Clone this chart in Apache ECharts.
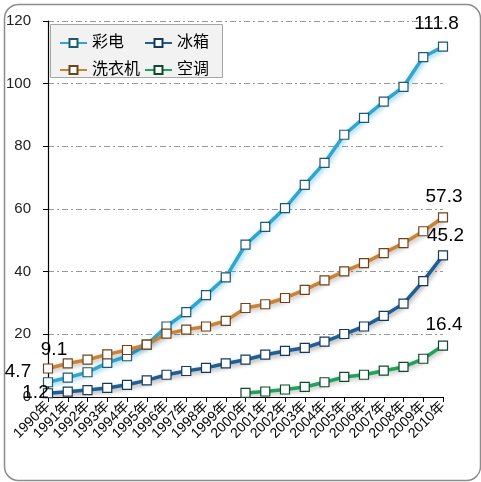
<!DOCTYPE html>
<html>
<head>
<meta charset="utf-8">
<script src="https://cdn.jsdelivr.net/npm/echarts@6/dist/echarts.min.js"></script>
<style>html,body{margin:0;padding:0;background:#fff}#c{width:481px;height:482px}</style>
</head>
<body>
<div id="c"></div>
<script>
var categories = ['1990年','1991年','1992年','1993年','1994年','1995年','1996年','1997年','1998年','1999年','2000年','2001年','2002年','2003年','2004年','2005年','2006年','2007年','2008年','2009年','2010年'];
var tv = [4.7, 6.2, 7.9, 10.9, 13.0, 16.7, 22.5, 27.1, 32.5, 38.2, 48.6, 54.3, 60.3, 67.7, 74.7, 83.7, 89.1, 94.3, 99.0, 108.5, 111.8];
var washer = [9.1, 10.7, 11.9, 13.6, 15.0, 16.7, 20.2, 21.5, 22.5, 24.3, 28.4, 29.6, 31.6, 34.2, 37.2, 40.1, 42.7, 45.9, 49.1, 52.9, 57.3];
var fridge = [1.2, 1.7, 2.2, 2.9, 3.9, 5.3, 7.1, 8.3, 9.3, 10.7, 11.9, 13.5, 14.7, 15.7, 17.7, 20.1, 22.5, 25.9, 29.8, 37.0, 45.2];
var ac = [null, null, null, null, null, null, null, null, null, null, 1.3, 1.75, 2.4, 3.2, 4.7, 6.4, 7.1, 8.4, 9.6, 12.2, 16.4];
var seriesNames = ['彩电', '冰箱', '洗衣机', '空调'];
var yTicks = [0, 20, 40, 60, 80, 100, 120];

var FONT = "'Liberation Sans', Arial, 'Noto Sans CJK SC', sans-serif";
var SYM = 9;
function lbl(dx, dy) {
  return {show: true, color: '#000', fontSize: 19, fontFamily: FONT,
          position: 'inside', offset: [dx, dy], align: 'center', verticalAlign: 'middle'};
}

function withLabels(values, firstLabel, lastLabel) {
  return values.map(function (v, i) {
    if (i === values.length - 1 && lastLabel) return {value: v, label: lastLabel};
    if (i === 0 && firstLabel) return {value: v, label: firstLabel};
    return v;
  });
}

function mkSeries(name, data, color, border, shadow) {
  return {
    name: name, type: 'line', data: data,
    symbol: 'rect', symbolSize: SYM, showAllSymbol: true,
    connectNulls: false,
    lineStyle: {color: color, width: 3.5, shadowBlur: 5, shadowColor: shadow, shadowOffsetX: 1, shadowOffsetY: 2},
    itemStyle: {color: '#fff', borderColor: border, borderWidth: 1.2},
    emphasis: {disabled: true},
    z: 3
  };
}

var chart = echarts.init(document.getElementById('c'));
chart.setOption({
  animation: false,
  backgroundColor: '#fff',
  grid: {left: 48, right: 38, top: 21, bottom: 85},
  graphic: [
    {type: 'rect', left: 2, top: 2, shape: {width: 476, height: 476, r: 14}, style: {fill: 'none', stroke: '#8c8c8c', lineWidth: 1.5}, z: -10},
    {type: 'rect', left: 50, top: 24, shape: {width: 172, height: 53}, style: {fill: '#f2f2f2', stroke: '#a6a6a6', lineWidth: 1}, z: 5}
  ],
  legend: [
    {data: [seriesNames[0], seriesNames[2]], orient: 'vertical', left: 54, top: 30, itemWidth: 27, itemHeight: 10, itemGap: 11, itemTextGap: 4,
     textStyle: {fontSize: 16, color: '#000', fontFamily: FONT}, z: 6},
    {data: [seriesNames[1], seriesNames[3]], orient: 'vertical', left: 139, top: 30, itemWidth: 27, itemHeight: 10, itemGap: 11, itemTextGap: 4,
     textStyle: {fontSize: 16, color: '#000', fontFamily: FONT}, z: 6}
  ],
  xAxis: {
    type: 'category', data: categories, boundaryGap: false,
    axisLine: {lineStyle: {color: '#000', width: 1.2}},
    axisTick: {show: true, alignWithLabel: true, length: 5, lineStyle: {color: '#000'}},
    axisLabel: {rotate: 45, interval: 0, fontSize: 14, color: '#000', fontFamily: FONT, margin: 7},
    splitLine: {show: false}
  },
  yAxis: {
    type: 'value', min: yTicks[0], max: yTicks[yTicks.length - 1], interval: 20,
    axisLine: {show: true, lineStyle: {color: '#000', width: 1.2}},
    axisTick: {show: true, length: 5, lineStyle: {color: '#000'}},
    axisLabel: {fontSize: 15, color: '#222', fontFamily: FONT, margin: 17},
    splitLine: {show: true, lineStyle: {color: '#999', width: 1, type: [6, 3, 2, 3]}}
  },
  series: [
    mkSeries(seriesNames[0], withLabels(tv, lbl(-30, -11), lbl(-6.5, -23)), '#2fa6cf', '#1c5a6e', 'rgba(40,160,210,0.55)'),
    mkSeries(seriesNames[1], withLabels(fridge, lbl(-12.5, 0), lbl(2.5, -20)), '#1f5f96', '#143a5a', 'rgba(0,0,0,0.4)'),
    mkSeries(seriesNames[2], withLabels(washer, lbl(6, -19), lbl(1, -21)), '#cc8236', '#6e4318', 'rgba(0,0,0,0.3)'),
    mkSeries(seriesNames[3], withLabels(ac, null, lbl(1, -21)), '#22a05e', '#0f4a2c', 'rgba(0,0,0,0.3)')
  ]
});
</script>
</body>
</html>
